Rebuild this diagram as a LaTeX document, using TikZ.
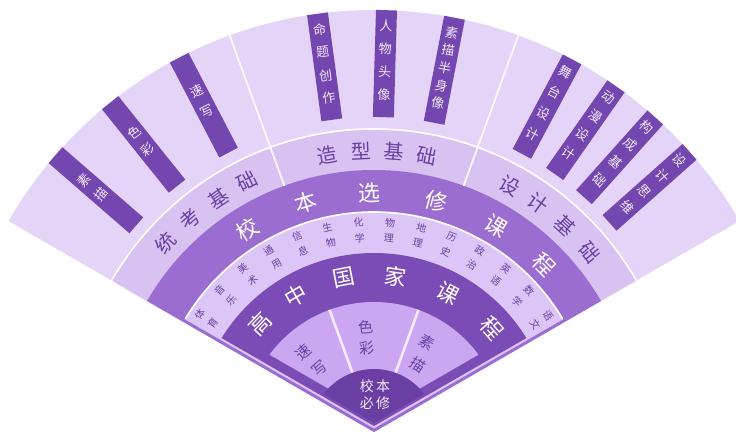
\documentclass[tikz,border=0pt]{standalone}
\usepackage{fontspec}
\setmainfont{Noto Sans CJK SC}
\usetikzlibrary{calc}
\definecolor{outerc}{HTML}{E4D5F8}
\definecolor{midc}{HTML}{D7C2F1}
\definecolor{selc}{HTML}{9B6DD0}
\definecolor{ringc}{HTML}{DCC6F7}
\definecolor{natc}{HTML}{7B4CB5}
\definecolor{innc}{HTML}{CBA7F1}
\definecolor{reqc}{HTML}{6A3EA2}
\definecolor{barc}{HTML}{7446AF}
\definecolor{darktxt}{HTML}{6A40A5}
\definecolor{lighttxt}{HTML}{F2EAFB}
\newcommand\fanlayer[3]{\begin{scope}\clip (0,#2) -- +(30:1000) -- +(150:1000) -- cycle; \fill[#1] (0,0) circle[radius=#3];\end{scope}}
\newcommand\radbar[2]{\node[barbox, rotate=#1-90, name=#2] at (#1:368.5) {};}
\newcommand\bartext[5]{\foreach \ch [count=\k] in {#4} {\node[bartxt, rotate=#1-90, name=#5\k] at (#1:{#2-(\k-1)*#3}) {\ch};}}
\tikzset{
  sep/.style={draw=white, line width=1.6pt},
  isep/.style={draw=lighttxt, line width=2.6pt},
  barbox/.style={fill=barc, draw=none, minimum width=21pt, minimum height=107pt, inner sep=0pt},
  bartxt/.style={text=lighttxt, inner sep=0pt, font=\fontsize{13}{13}\selectfont},
  midtxt/.style={text=darktxt, inner sep=0pt, font=\fontsize{20}{20}\selectfont},
  seltxt/.style={text=white, inner sep=0pt, font=\fontsize{22}{22}\selectfont},
  nattxt/.style={text=white, inner sep=0pt, font=\fontsize{22}{22}\selectfont},
  ringtxt/.style={text=darktxt, inner sep=0pt, font=\fontsize{10}{10}\selectfont},
  inntxt/.style={text=darktxt, inner sep=0pt, font=\fontsize{15}{15}\selectfont},
  reqtxt/.style={text=lighttxt, inner sep=0pt, align=center, font=\fontsize{14}{16.5}\selectfont},
}
\begin{document}
\begin{tikzpicture}[x=1pt,y=1pt]
\useasboundingbox (0,0) rectangle (736,-434);
\clip (0,0) rectangle (736,-434);
\fill[white] (0,0) rectangle (736,-434);
\begin{scope}[shift={(374,-432)}]
\fanlayer{outerc}{0}{422}
\fanlayer{midc}{0}{303}
\fanlayer{selc}{0}{262}
\fanlayer{ringc}{3.5}{220}
\fanlayer{natc}{6}{179}
\fanlayer{innc}{17}{130}
\draw[isep] (70:62) -- (70:130);
\draw[isep] (110:62) -- (110:130);
\fanlayer{reqc}{9}{63}
% separators
\draw[sep] (30:303) arc[start angle=30, end angle=150, radius=303];
\draw[sep] (30.9:220) arc[start angle=30.9, end angle=149.1, radius=220];
\draw[sep] (70:262) -- (70:423);
\draw[sep] (110:262) -- (110:423);
% bars
\radbar{139}{b1}
\radbar{128.7}{b2}
\radbar{117.5}{b3}
\radbar{97.7}{b4}
\radbar{88.3}{b5}
\radbar{79}{b6}
\radbar{62}{b7}
\radbar{55}{b8}
\radbar{48.2}{b9}
\radbar{41.6}{b10}
\bartext{139}{384}{22}{素,描}{c1}
\bartext{128.7}{384}{22}{色,彩}{c2}
\bartext{117.5}{384}{22}{速,写}{c3}
\bartext{97.7}{406}{23}{命,题,创,作}{c4}
\bartext{88.3}{406}{23}{人,物,头,像}{c5}
\bartext{79}{407}{18}{素,描,半,身,像}{c6}
\bartext{62}{408}{23.5}{舞,台,设,计}{c7}
\bartext{55}{409}{23}{动,漫,设,计}{c8}
\bartext{48.2}{409}{23.5}{构,成,基,础}{c9}
\bartext{41.6}{409}{23.5}{设,计,思,维}{c10}
% middle band
\foreach \ch/\ang [count=\i] in {统/137.8,考/130.8,基/123.7,础/116.9,造/99.7,型/92.6,基/85.9,础/79.1,设/61,计/54.4,基/47.2,础/39.8}
  {\node[midtxt, rotate=\ang-90, name=m\i] at (\ang:281) {\ch};}
% elective band
\foreach \ch/\ang [count=\i] in {校/122,本/106.5,选/91.2,修/74.9,课/59.3,程/44.5}
  {\node[seltxt, rotate=\ang-90, name=s\i] at (\ang:239) {\ch};}
% small ring
\foreach \a/\b [count=\i] in {体/育,音/乐,美/术,通/用,信/息,生/物,化/学,物/理,地/理,历/史,政/治,英/语,数/学,语/文}
  {\pgfmathsetmacro\ang{146-(\i-1)*8.63}
   \node[ringtxt, rotate=\ang-90, name=ro\i] at (\ang:210) {\a};
   \node[ringtxt, rotate=\ang-90, name=ri\i] at (\ang:194) {\b};}
% national band
\foreach \ch/\ang [count=\i] in {高/136.5,中/119.7,国/101,家/82,课/62,程/41.4}
  {\node[nattxt, rotate=\ang-90, name=n\i] at (\ang:157) {\ch};}
% inner sectors
\node[inntxt, rotate=131.5-90, name=i1] at (131.5:106) {速};
\node[inntxt, rotate=130.7-90, name=i2] at (130.7:84) {写};
\node[inntxt, rotate=94.5-90, name=i3] at (94.5:105) {色};
\node[inntxt, rotate=95-90, name=i4] at (95:84) {彩};
\node[inntxt, rotate=59.5-90, name=i5] at (59.5:104) {素};
\node[inntxt, rotate=57-90, name=i6] at (57:80) {描};
% required
\node[reqtxt, name=req] at (1,37.5) {校\,本\\必\,修};
\end{scope}
\end{tikzpicture}
\end{document}
